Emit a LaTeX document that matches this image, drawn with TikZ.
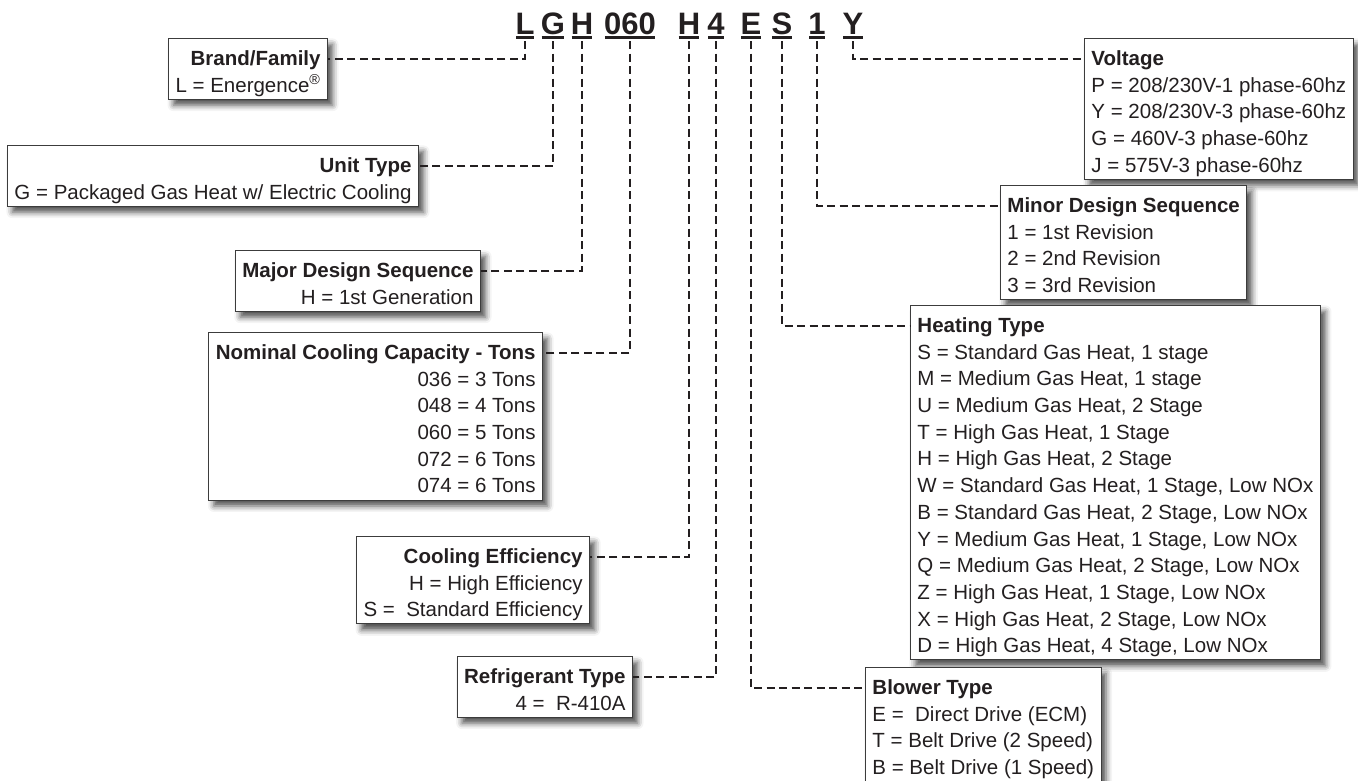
\documentclass[tikz,border=0pt]{standalone}
\usepackage{fontspec}
\setmainfont{Liberation Sans}
\usetikzlibrary{shadows.blur}
\definecolor{ink}{RGB}{35,31,32}
\definecolor{frame}{RGB}{60,60,60}
\newcommand\hd[1]{\rule{0pt}{25pt}\textbf{#1}}
\newcommand\lastln[1]{#1\rule[-5pt]{0pt}{5pt}}

\begin{document}
\begin{tikzpicture}[x=1pt, y=-1pt,
  codech/.style={font=\fontsize{31}{31}\selectfont\bfseries, text=ink,
    inner xsep=-1pt, inner ysep=0pt, text depth=7pt, anchor=base},
  ulbar/.style={ink, line width=2.8pt},
  panel/.style={draw=frame, line width=0.9pt, fill=white, text=ink,
    inner xsep=7pt, inner ysep=2pt, font=\fontsize{20.5}{26.7}\selectfont,
    blur shadow={shadow xshift=5pt, shadow yshift=-6pt,
      shadow blur radius=6pt, shadow opacity=70}},
  leftpanel/.style={panel, align=right, anchor=north east},
  rightpanel/.style={panel, align=left, anchor=north west},
  leader/.style={draw=ink, line width=2.6pt, dash pattern=on 8pt off 4.5pt}
]
\useasboundingbox (0,0) rectangle (1358,780);

\node[codech] (cL) at (525,34) {L};
\node[codech] (cG) at (553,34) {G};
\node[codech] (cH) at (582,34) {H};
\node[codech] (cTons) at (630,34) {060};
\node[codech] (cEff) at (689,34) {H};
\node[codech] (cRef) at (716,34) {4};
\node[codech] (cE) at (751,34) {E};
\node[codech] (cS) at (782,34) {S};
\node[codech] (cRev) at (817,34) {1};
\node[codech] (cY) at (853,34) {Y};
\foreach \c in {cL,cG,cH,cTons,cEff,cRef,cE,cS,cRev,cY}
  \draw[ulbar] ([yshift=-3.5pt]\c.base west) -- ([yshift=-3.5pt]\c.base east);

\node[leftpanel] (brand) at (328,38) {\hd{Brand/Family}\\\lastln{L = Energence\textsuperscript{®}}};
\node[leftpanel] (unit) at (419,145) {\hd{Unit Type}\\\lastln{G = Packaged Gas Heat w/ Electric Cooling}};
\node[leftpanel] (major) at (481,250) {\hd{Major Design Sequence}\\\lastln{H = 1st Generation}};
\node[leftpanel] (tons) at (543,332) {\hd{Nominal Cooling Capacity - Tons}\\036 = 3 Tons\\048 = 4 Tons\\060 = 5 Tons\\072 = 6 Tons\\\lastln{074 = 6 Tons}};
\node[leftpanel] (eff) at (590,536) {\hd{Cooling Efficiency}\\H = High Efficiency\\\lastln{S =\ \ Standard Efficiency}};
\node[leftpanel] (refr) at (633,656) {\hd{Refrigerant Type}\\\lastln{4 =\ \ R-410A}};

\node[rightpanel] (volt) at (1084,38) {\hd{Voltage}\\P = 208/230V-1 phase-60hz\\Y = 208/230V-3 phase-60hz\\G = 460V-3 phase-60hz\\\lastln{J = 575V-3 phase-60hz}};
\node[rightpanel] (minor) at (1000,185) {\hd{Minor Design Sequence}\\1 = 1st Revision\\2 = 2nd Revision\\\lastln{3 = 3rd Revision}};
\node[rightpanel] (heat) at (910,305) {\hd{Heating Type}\\S = Standard Gas Heat, 1 stage\\M = Medium Gas Heat, 1 stage\\U = Medium Gas Heat, 2 Stage\\T = High Gas Heat, 1 Stage\\H = High Gas Heat, 2 Stage\\W = Standard Gas Heat, 1 Stage, Low NOx\\B = Standard Gas Heat, 2 Stage, Low NOx\\Y = Medium Gas Heat, 1 Stage, Low NOx\\Q = Medium Gas Heat, 2 Stage, Low NOx\\Z = High Gas Heat, 1 Stage, Low NOx\\X = High Gas Heat, 2 Stage, Low NOx\\\lastln{D = High Gas Heat, 4 Stage, Low NOx}};
\node[rightpanel] (blower) at (865,667) {\hd{Blower Type}\\E =\ \ Direct Drive (ECM)\\T = Belt Drive (2 Speed)\\\lastln{B = Belt Drive (1 Speed)}};

\draw[leader] (cL.south) |- ([yshift=-21pt]brand.north east);
\draw[leader] (cG.south) |- ([yshift=-21pt]unit.north east);
\draw[leader] (cH.south) |- ([yshift=-21pt]major.north east);
\draw[leader] (cTons.south) |- ([yshift=-21pt]tons.north east);
\draw[leader] (cEff.south) |- ([yshift=-21pt]eff.north east);
\draw[leader] (cRef.south) |- ([yshift=-21pt]refr.north east);
\draw[leader] (cE.south) |- ([yshift=-21pt]blower.north west);
\draw[leader] (cS.south) |- ([yshift=-21pt]heat.north west);
\draw[leader] (cRev.south) |- ([yshift=-21pt]minor.north west);
\draw[leader] (cY.south) |- ([yshift=-21pt]volt.north west);
\end{tikzpicture}
\end{document}
